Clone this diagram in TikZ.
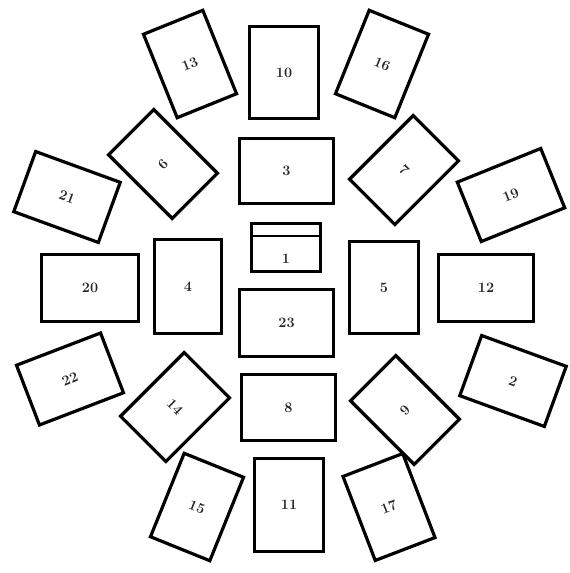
\documentclass[tikz,border=0pt]{standalone}
\usetikzlibrary{calc}
\begin{document}
\begin{tikzpicture}[x=1pt,y=-1pt,
  box/.style={draw=black,line width=3.2pt,fill=white,inner sep=0pt,outer sep=0pt,
    font=\Large\bfseries,text=black!85},
  portrait/.style={box,minimum width=64pt,minimum height=90pt},
  landscape/.style={box,minimum width=90pt,minimum height=64pt},
  lbl/.style={inner sep=0pt,font=\Large\bfseries,text=black!85}]
\useasboundingbox (0,0) rectangle (570,573);
% outer ring
\node[box,minimum width=69pt,minimum height=92pt] (b10) at (284,72.5) {10};
\node[portrait,rotate=22] (b13) at (190,64) {13};
\node[portrait,rotate=-22] (b16) at (382,64) {16};
\node[landscape,rotate=-20] (b21) at (67,197) {21};
\node[landscape,rotate=22] (b19) at (511,195) {19};
\node[box,minimum width=97pt,minimum height=67pt] (b20) at (90,288) {20};
\node[box,minimum width=95pt,minimum height=67pt] (b12) at (486,288) {12};
\node[landscape,rotate=21] (b22) at (70,379) {22};
\node[landscape,rotate=-20] (b2) at (513,381) {2};
\node[portrait,rotate=-22] (b15) at (197,507) {15};
\node[box,minimum width=69pt,minimum height=93pt] (b11) at (289,505) {11};
\node[portrait,rotate=21] (b17) at (389,507) {17};
% inner ring
\node[portrait,rotate=45] (b6) at (163,164) {6};
\node[box,minimum width=94pt,minimum height=65pt] (b3) at (286.5,171) {3};
\node[portrait,rotate=-45] (b7) at (404,170) {7};
\node[box,minimum width=67pt,minimum height=94pt] (b4) at (188,286.5) {4};
\node[box,minimum width=69pt,minimum height=92pt] (b5) at (384,287.5) {5};
\node[portrait,rotate=-45] (b14) at (175,407) {14};
\node[box,minimum width=94pt,minimum height=66pt] (b8) at (288.5,407.5) {8};
\node[portrait,rotate=45] (b9) at (405,410) {9};
% centre
\node[box,minimum width=69pt,minimum height=48pt] (b1) at (286,247.5) {};
\node[lbl] (l1) at (286,259) {1};
\draw[line width=2.6pt] ($(b1.north west)!0.26!(b1.south west)$) -- ($(b1.north east)!0.26!(b1.south east)$);
\node[box,minimum width=94pt,minimum height=67pt] (b23) at (286.5,323) {23};
\end{tikzpicture}
\end{document}
